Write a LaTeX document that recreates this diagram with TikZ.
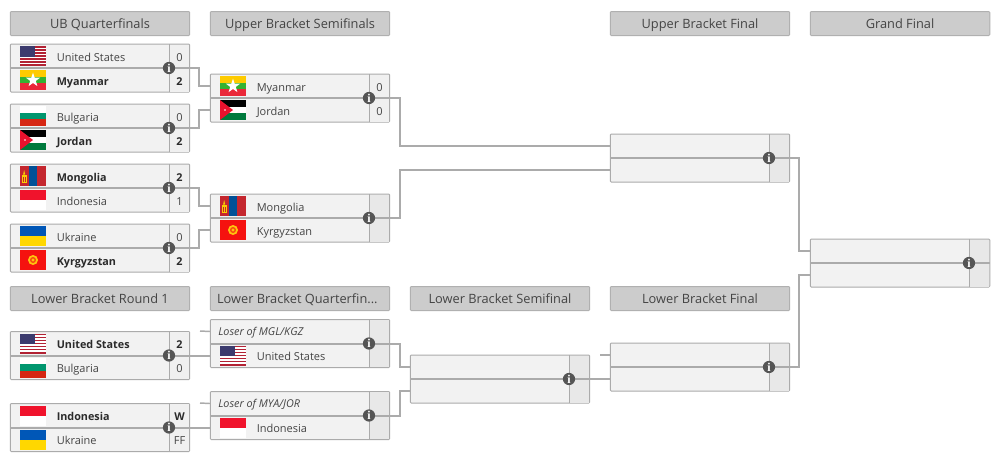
\documentclass[tikz,border=0pt]{standalone}
\usepackage{fontspec}
\usetikzlibrary{calc}
\setmainfont{Open Sans}
\newfontfamily\iconfont{Liberation Serif}
\pgfdeclarelayer{boxes}
\pgfdeclarelayer{lines}
\pgfsetlayers{boxes,lines,main}
\definecolor{hdrfill}{HTML}{CCCCCC}
\definecolor{hdrline}{HTML}{B0B0B0}
\definecolor{boxfill}{HTML}{F2F2F2}
\definecolor{scorefill}{HTML}{F0F0F0}
\definecolor{emptyscore}{HTML}{E8E8E8}
\definecolor{edge}{HTML}{ABABAB}
\definecolor{ink}{HTML}{444444}
\definecolor{darkink}{HTML}{2B2B2B}
\definecolor{iconfill}{HTML}{555555}
\definecolor{usred}{HTML}{B22234}
\definecolor{usblue}{HTML}{3C3B6E}
\definecolor{myy}{HTML}{FECB00}
\definecolor{myg}{HTML}{34B233}
\definecolor{myr}{HTML}{EA2839}
\definecolor{bgg}{HTML}{00966E}
\definecolor{bgr}{HTML}{D62612}
\definecolor{jog}{HTML}{007A3D}
\definecolor{jor}{HTML}{E8112D}
\definecolor{mnr}{HTML}{C4272F}
\definecolor{mnb}{HTML}{015197}
\definecolor{mny}{HTML}{F9CF02}
\definecolor{idr}{HTML}{F0132C}
\definecolor{uab}{HTML}{0057B7}
\definecolor{uay}{HTML}{FFD700}
\definecolor{kgr}{HTML}{F5120F}
\definecolor{kgy}{HTML}{FFC20E}
\tikzset{
  roundheader/.style={draw=hdrline,fill=hdrfill,rounded corners=.75pt,line width=.75pt,minimum width=134.6pt,minimum height=18pt,inner sep=0pt,outer sep=0pt,text=ink,text height=8pt,text depth=1.2pt,font=\fontsize{9.6pt}{11pt}\selectfont},
  matchnode/.style={draw=edge,fill=boxfill,rounded corners=.75pt,line width=.75pt,minimum width=134.6pt,minimum height=36pt,inner sep=0pt,outer sep=0pt},
  conn/.style={draw=edge,line width=1.5pt,line join=miter},
  stub/.style={draw=edge,line width=1.1pt},
  infoicon/.style={circle,fill=iconfill,minimum size=9.2pt,inner sep=0pt,outer sep=0pt,text=white,font=\iconfont\bfseries\fontsize{9pt}{9pt}\selectfont},
  teamname/.style={anchor=base west,inner sep=0pt,text=ink,font=\fontsize{8.25pt}{10pt}\selectfont},
  winnername/.style={anchor=base west,inner sep=0pt,text=darkink,font=\bfseries\fontsize{8.1pt}{10pt}\selectfont},
  scoretext/.style={anchor=base,inner sep=0pt,text=ink,font=\fontsize{8.25pt}{10pt}\selectfont},
  winnerscore/.style={anchor=base,inner sep=0pt,text=darkink,font=\bfseries\fontsize{8.1pt}{10pt}\selectfont},
  loserlabel/.style={anchor=base west,inner sep=0pt,text=ink,font=\itshape\fontsize{8.1pt}{10pt}\selectfont},
}
% flags: local frame 26 x 20 px
\newcommand\flagUS{%
  \fill[white] (0,0) rectangle (26,20);
  \foreach \i in {0,2,...,12}{\fill[usred] (0,{\i*20/13}) rectangle (26,{(\i+1)*20/13});}
  \fill[usblue] (0,0) rectangle (15,10.8);}
\newcommand\flagMM{%
  \fill[myy] (0,0) rectangle (26,6.67);
  \fill[myg] (0,6.67) rectangle (26,13.33);
  \fill[myr] (0,13.33) rectangle (26,20);
  \fill[white] (13,2.5)--(14.7,7.7)--(20.1,7.7)--(15.8,10.9)--(17.4,16.1)--(13,13)--(8.6,16.1)--(10.2,10.9)--(5.9,7.7)--(11.3,7.7)--cycle;}
\newcommand\flagBG{%
  \fill[white] (0,0) rectangle (26,6.67);
  \fill[bgg] (0,6.67) rectangle (26,13.33);
  \fill[bgr] (0,13.33) rectangle (26,20);}
\newcommand\flagJO{%
  \fill[black] (0,0) rectangle (26,6.67);
  \fill[white] (0,6.67) rectangle (26,13.33);
  \fill[jog] (0,13.33) rectangle (26,20);
  \fill[jor] (0,0)--(13,10)--(0,20)--cycle;
  \fill[white] (5,10) circle[radius=.9];}
\newcommand\flagMN{%
  \fill[mnr] (0,0) rectangle (26,20);
  \fill[mnb] (8.67,0) rectangle (17.33,20);
  \fill[mny] (1.5,9) rectangle (6.8,17);
  \fill[mny] (4.15,4)--(5.2,8.5)--(3.1,8.5)--cycle;
  \fill[mnr] (2.7,10.5) rectangle (3.6,15.5);
  \fill[mnr] (4.7,10.5) rectangle (5.6,15.5);}
\newcommand\flagID{%
  \fill[idr] (0,0) rectangle (26,10);
  \fill[white] (0,10) rectangle (26,20);}
\newcommand\flagUA{%
  \fill[uab] (0,0) rectangle (26,10);
  \fill[uay] (0,10) rectangle (26,20);}
\newcommand\flagKG{%
  \fill[kgr] (0,0) rectangle (26,20);
  \fill[kgy] (13,10) circle[radius=5];
  \fill[kgr!70!kgy] (13,10) circle[radius=3];
  \fill[kgy] (13,10) circle[radius=1.7];}
% a match box: name, x, y, score column fill
\newcommand\matchbox[4]{%
  \begin{pgfonlayer}{boxes}
    \node[matchnode] (#1) at (#2+90,#3+24) {};
    \fill[#4] (#2+159.5,#3+.5) rectangle (#2+179.3,#3+47.5);
    \draw[edge,line width=.75pt] (#2+159.5,#3) -- (#2+159.5,#3+48);
  \end{pgfonlayer}
  \coordinate (#1-a) at (#2,#3+12);
  \coordinate (#1-b) at (#2,#3+36);
  \node[infoicon] (#1-i) at (#2+159,#3+24) {i};
  \begin{pgfonlayer}{lines}
    \draw[conn] (#1.west) -- (#1-i);
  \end{pgfonlayer}}
% team row: match, row (a/b), flag macro, name, score, name style, score style
\newcommand\teamrow[7]{%
  \begin{scope}[shift={(#1-#2)}]
    \begin{scope}[shift={(10,-10)}]#3\end{scope}
    \node[#6] (#1-#2-name) at (46.5,5) {#4};
    \node[#7] (#1-#2-score) at (169.5,5) {#5};
  \end{scope}}
\begin{document}
\begin{tikzpicture}[x=.75pt,y=-.75pt]
\useasboundingbox (0,0) rectangle (998,461);
% headers
\node[roundheader] (h1) at (100,23.5) {UB Quarterfinals};
\node[roundheader] (h2) at (300,23.5) {Upper Bracket Semifinals};
\node[roundheader] (h3) at (700,23.5) {Upper Bracket Final};
\node[roundheader] (h4) at (900,23.5) {Grand Final};
\node[roundheader] (h5) at (100,298.5) {Lower Bracket Round 1};
\node[roundheader] (h6) at (300,298.5) {\hspace{-4pt}Lower Bracket Quarterfin...};
\node[roundheader] (h7) at (500,298.5) {Lower Bracket Semifinal};
\node[roundheader] (h8) at (700,298.5) {Lower Bracket Final};
% matches
\matchbox{qa}{10}{44}{scorefill}
\matchbox{qb}{10}{104}{scorefill}
\matchbox{qc}{10}{164}{scorefill}
\matchbox{qd}{10}{224}{scorefill}
\matchbox{sa}{210}{74}{scorefill}
\matchbox{sb}{210}{194}{emptyscore}
\matchbox{uf}{610}{134}{emptyscore}
\matchbox{gf}{810}{239}{emptyscore}
\matchbox{ra}{10}{331.5}{scorefill}
\matchbox{rb}{10}{403.5}{scorefill}
\matchbox{la}{210}{319.5}{emptyscore}
\matchbox{lb}{210}{391.5}{emptyscore}
\matchbox{ls}{410}{355}{emptyscore}
\matchbox{lf}{610}{343}{emptyscore}
% teams
\teamrow{qa}{a}{\flagUS}{United States}{0}{teamname}{scoretext}
\teamrow{qa}{b}{\flagMM}{Myanmar}{2}{winnername}{winnerscore}
\teamrow{qb}{a}{\flagBG}{Bulgaria}{0}{teamname}{scoretext}
\teamrow{qb}{b}{\flagJO}{Jordan}{2}{winnername}{winnerscore}
\teamrow{qc}{a}{\flagMN}{Mongolia}{2}{winnername}{winnerscore}
\teamrow{qc}{b}{\flagID}{Indonesia}{1}{teamname}{scoretext}
\teamrow{qd}{a}{\flagUA}{Ukraine}{0}{teamname}{scoretext}
\teamrow{qd}{b}{\flagKG}{Kyrgyzstan}{2}{winnername}{winnerscore}
\teamrow{sa}{a}{\flagMM}{Myanmar}{0}{teamname}{scoretext}
\teamrow{sa}{b}{\flagJO}{Jordan}{0}{teamname}{scoretext}
\teamrow{sb}{a}{\flagMN}{Mongolia}{}{teamname}{scoretext}
\teamrow{sb}{b}{\flagKG}{Kyrgyzstan}{}{teamname}{scoretext}
\teamrow{ra}{a}{\flagUS}{United States}{2}{winnername}{winnerscore}
\teamrow{ra}{b}{\flagBG}{Bulgaria}{0}{teamname}{scoretext}
\teamrow{rb}{a}{\flagID}{Indonesia}{W}{winnername}{winnerscore}
\teamrow{rb}{b}{\flagUA}{Ukraine}{FF}{teamname}{scoretext}
\node[loserlabel] (la-l) at ($(la-a)+(8,4)$) {Loser of MGL/KGZ};
\node[loserlabel] (lb-l) at ($(lb-a)+(8,4)$) {Loser of MYA/JOR};
\teamrow{la}{b}{\flagUS}{United States}{}{teamname}{scoretext}
\teamrow{lb}{b}{\flagID}{Indonesia}{}{teamname}{scoretext}
% connectors
\coordinate (la-s) at (200,331);
\coordinate (lb-s) at (200,403);
\coordinate (lf-s) at (600,355);
\begin{pgfonlayer}{lines}
  \draw[conn] (qa-i) -- ++(30,0) |- (sa-a);
  \draw[conn] (qb-i) -- ++(30,0) |- (sa-b);
  \draw[conn] (qc-i) -- ++(30,0) |- (sb-a);
  \draw[conn] (qd-i) -- ++(30,0) |- (sb-b);
  \draw[conn] (sa-i) -- ++(30.5,0) |- (uf-a);
  \draw[conn] (sb-i) -- ++(30.5,0) |- (uf-b);
  \draw[conn] (uf-i) -- ++(30,0) |- (gf-a);
  \draw[conn] (lf-i) -- ++(30,0) |- (gf-b);
  \draw[conn] (ra-i) -- (la-b);
  \draw[conn] (rb-i) -- (lb-b);
  \draw[conn] (la-i) -- ++(30.5,0) |- (ls-a);
  \draw[conn] (lb-i) -- ++(30.5,0) |- (ls-b);
  \draw[conn] (ls-i) -- (lf-b);
  \draw[conn] (gf-i) -- (gf.east);
  \draw[stub] (la-s) -- (la-a);
  \draw[stub] (lb-s) -- (lb-a);
  \draw[stub] (lf-s) -- (lf-a);
\end{pgfonlayer}
\end{tikzpicture}
\end{document}
